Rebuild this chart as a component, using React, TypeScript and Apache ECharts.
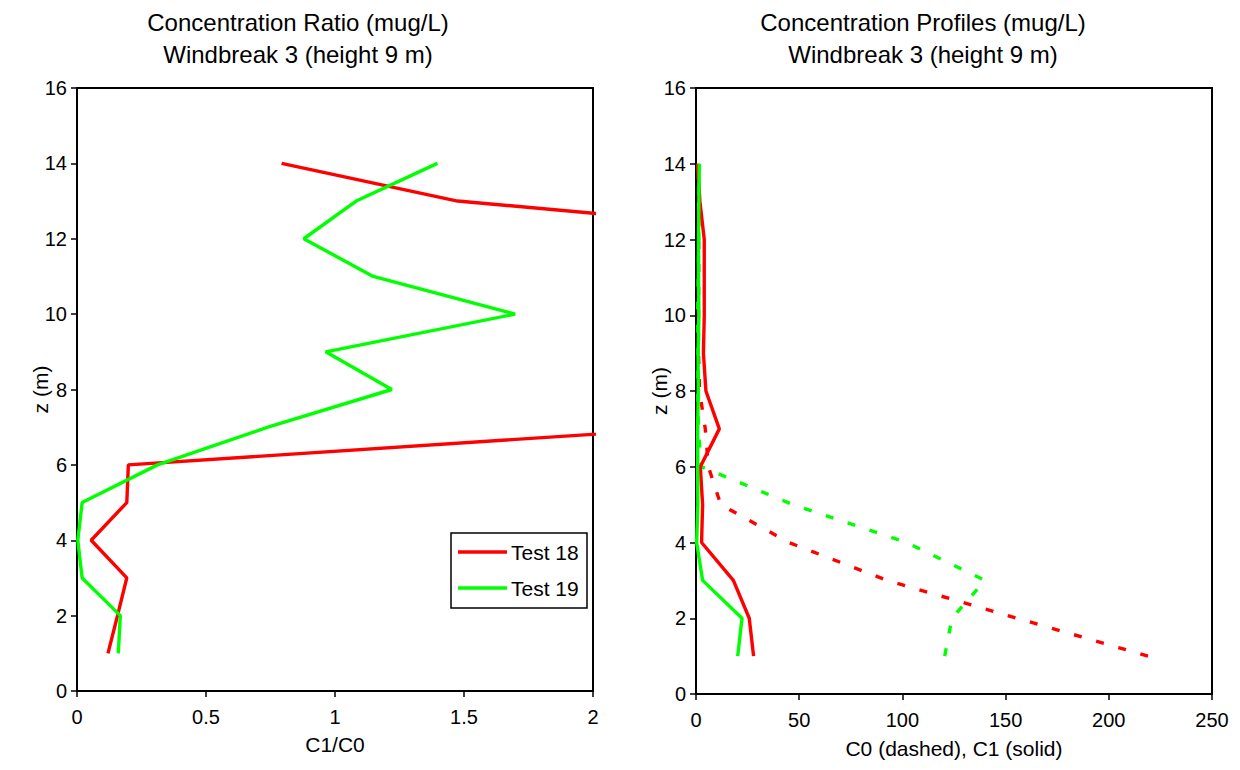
import React, { useEffect, useRef } from "react";
import * as echarts from "echarts";

// Measurement heights (m)
const heights = [1, 2, 3, 4, 5, 6, 7, 8, 9, 10, 11, 12, 13, 14];

// Test names
const testNames = ["Test 18", "Test 19"];

// Concentration ratio C1/C0 at each height
const ratioTest18 = [0.12, 0.157, 0.193, 0.055, 0.193, 0.199, 2.42, 3.0, 3.4, 3.3, 3.1, 3.11, 1.475, 0.793];
const ratioTest19 = [0.16, 0.168, 0.02, 0.003, 0.02, 0.312, 0.74, 1.22, 0.964, 1.698, 1.148, 0.879, 1.082, 1.397];

// Concentration profiles (mug/L): C0 upwind, C1 downwind
const c0Test18 = [219, 155.5, 92.6, 45, 12, 6.0, 4.5, 1.7, 1.2, 1.2, 1.3, 1.3, 1.3, 1.0];
const c1Test18 = [27.9, 25.8, 18.1, 2.7, 3.2, 2.1, 11.3, 4.8, 3.6, 4.0, 4.0, 4.0, 1.9, 0.8];
const c0Test19 = [120.5, 124, 140, 102, 47, 2.6, 1.1, 0.9, 1.04, 0.82, 1.05, 1.37, 1.3, 1.16];
const c1Test19 = [20.2, 22.3, 3.2, 0.3, 0.9, 0.8, 0.8, 1.1, 1.0, 1.4, 1.2, 1.2, 1.4, 1.6];

const RED = "#ff0000";
const GREEN = "#00ff00";
const FONT = "'Liberation Sans', Arial, Helvetica, sans-serif";
const LINE_W = 3.4;

const toPairs = (xs: number[]) => xs.map((x, i) => [x, heights[i]]);

export default function App() {
  const ref = useRef<HTMLDivElement>(null);

  useEffect(() => {
    document.body.style.margin = "0";
    const chart = echarts.init(ref.current!, null, { renderer: "svg" });

    const axisLine = { show: true, lineStyle: { color: "#000", width: 2 } };
    const axisTick = { show: true, inside: false, length: 6, lineStyle: { color: "#000", width: 1.5 } };
    const tickLabel = { color: "#000", fontSize: 20, fontFamily: FONT };
    const nameText = { color: "#000", fontSize: 21, fontFamily: FONT };
    const titleText = { color: "#000", fontSize: 24, fontWeight: "normal", lineHeight: 32, fontFamily: FONT };

    const yAxis = (gridIndex: number) => ({
      type: "value",
      gridIndex,
      min: 0,
      max: 16,
      interval: 2,
      axisLine,
      axisTick,
      splitLine: { show: false },
      axisLabel: { ...tickLabel, margin: 10 },
      name: "z (m)",
      nameLocation: "middle",
      nameRotate: 90,
      nameGap: 26,
      nameMoveOverlap: false,
      nameTextStyle: { ...nameText },
    });

    const line = (
      name: string,
      axis: number,
      values: number[],
      color: string,
      dashed: boolean,
      clip: boolean
    ) => ({
      type: "line",
      name,
      xAxisIndex: axis,
      yAxisIndex: axis,
      data: toPairs(values),
      symbol: "none",
      clip,
      silent: true,
      itemStyle: { color },
      lineStyle: { color, width: LINE_W, type: dashed ? [8, 15] : "solid" },
    });

    // Legend box for the ratio panel
    const legendItem = (i: number, color: string) => [
      {
        type: "line",
        shape: { x1: 458, y1: 552 + i * 36, x2: 507, y2: 552 + i * 36 },
        style: { stroke: color, lineWidth: LINE_W },
        silent: true,
      },
      {
        type: "text",
        x: 511,
        y: 552 + i * 36,
        style: {
          text: testNames[i],
          fill: "#000",
          fontSize: 21,
          fontFamily: FONT,
          verticalAlign: "middle",
          align: "left",
        },
        silent: true,
      },
    ];

    chart.setOption({
      animation: false,
      backgroundColor: "#fff",
      title: [
        {
          text: "Concentration Ratio (mug/L)\nWindbreak 3 (height 9 m)",
          left: 298,
          top: 6,
          padding: 0,
          textAlign: "center",
          textStyle: titleText,
        },
        {
          text: "Concentration Profiles (mug/L)\nWindbreak 3 (height 9 m)",
          left: 923,
          top: 6,
          padding: 0,
          textAlign: "center",
          textStyle: titleText,
        },
      ],
      grid: [
        { left: 77, top: 88, width: 516, height: 603, show: true, borderColor: "#000", borderWidth: 2 },
        { left: 696, top: 88, width: 516, height: 606, show: true, borderColor: "#000", borderWidth: 2 },
      ],
      xAxis: [
        {
          type: "value",
          gridIndex: 0,
          min: 0,
          max: 2,
          interval: 0.5,
          axisLine,
          axisTick,
          splitLine: { show: false },
          axisLabel: { ...tickLabel, margin: 16 },
          name: "C1/C0",
          nameLocation: "middle",
          nameGap: 43,
          nameTextStyle: { ...nameText },
        },
        {
          type: "value",
          gridIndex: 1,
          min: 0,
          max: 250,
          interval: 50,
          axisLine,
          axisTick,
          splitLine: { show: false },
          axisLabel: { ...tickLabel, margin: 16 },
          name: "C0 (dashed), C1 (solid)",
          nameLocation: "middle",
          nameGap: 44,
          nameTextStyle: { ...nameText },
        },
      ],
      yAxis: [yAxis(0), yAxis(1)],
      series: [
        line(testNames[0], 0, ratioTest18, RED, false, true),
        line(testNames[1], 0, ratioTest19, GREEN, false, false),
        line("C0 " + testNames[0], 1, c0Test18, RED, true, false),
        line("C0 " + testNames[1], 1, c0Test19, GREEN, true, false),
        line("C1 " + testNames[0], 1, c1Test18, RED, false, false),
        line("C1 " + testNames[1], 1, c1Test19, GREEN, false, false),
      ],
      graphic: [
        {
          type: "rect",
          shape: { x: 451, y: 533, width: 136, height: 75 },
          style: { fill: "#fff", stroke: "#000", lineWidth: 1.5 },
          silent: true,
        },
        ...legendItem(0, RED),
        ...legendItem(1, GREEN),
      ],
    });

    return () => chart.dispose();
  }, []);

  return <div ref={ref} style={{ width: 1240, height: 770 }} />;
}
